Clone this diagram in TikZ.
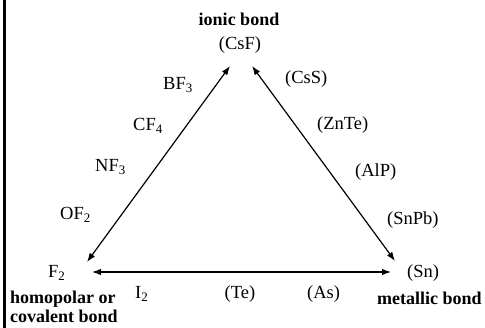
\documentclass[tikz,border=0pt]{standalone}
\usepackage{fontspec}
\setmainfont{Liberation Serif}
\usetikzlibrary{arrows.meta}
\tikzset{
  lbl/.style={inner sep=0pt, anchor=base west, font=\fontsize{18.5}{22}\selectfont},
  blbl/.style={inner sep=0pt, anchor=base west, font=\fontsize{18}{20}\selectfont\bfseries},
  conn/.style={line width=1.2pt, {Latex[length=9pt,width=6.5pt]}-{Latex[length=9pt,width=6.5pt]}}
}
\newcommand{\sbs}[1]{\textsubscript{#1}}
\begin{document}
\begin{tikzpicture}[x=1pt,y=-1pt]
\useasboundingbox (0,0) rectangle (485,328);
\fill[white] (0,0) rectangle (485,328);
\draw[line width=3pt] (4.5,0) -- (4.5,328);
% corner labels
\node[blbl, anchor=base] (ionic) at (239,26) {ionic bond};
\node[lbl, anchor=base] (csf) at (240,50) {(CsF)};
\node[lbl] (f2) at (48,278) {F\sbs{2}};
\node[blbl] (homo) at (10,304) {homopolar or};
\node[blbl] (cova) at (10,323) {covalent bond};
\node[lbl] (sn) at (407,278) {(Sn)};
\node[blbl] (metal) at (377,305) {metallic bond};
% arrow ends
\coordinate (lt) at (230,66);
\coordinate (lb) at (87,262);
\coordinate (rt) at (252,66);
\coordinate (rb) at (395,261);
\coordinate (bl) at (92,272);
\coordinate (br) at (391,272);
\draw[conn] (lb) -- (lt);
\draw[conn] (rt) -- (rb);
\draw[conn] (bl) -- (br);
% left side
\node[lbl] (bf3) at (163,90) {BF\sbs{3}};
\node[lbl] (cf4) at (133,131) {CF\sbs{4}};
\node[lbl] (nf3) at (95,172) {NF\sbs{3}};
\node[lbl] (of2) at (60,220) {OF\sbs{2}};
% right side
\node[lbl] (css) at (285,84) {(CsS)};
\node[lbl] (znte) at (317,130) {(ZnTe)};
\node[lbl] (alp) at (355,177) {(AlP)};
\node[lbl] (snpb) at (387,225) {(SnPb)};
% bottom
\node[lbl] (i2) at (135,299) {I\sbs{2}};
\node[lbl, anchor=base] (te) at (240,299) {(Te)};
\node[lbl] (as) at (307,299) {(As)};
\end{tikzpicture}
\end{document}
